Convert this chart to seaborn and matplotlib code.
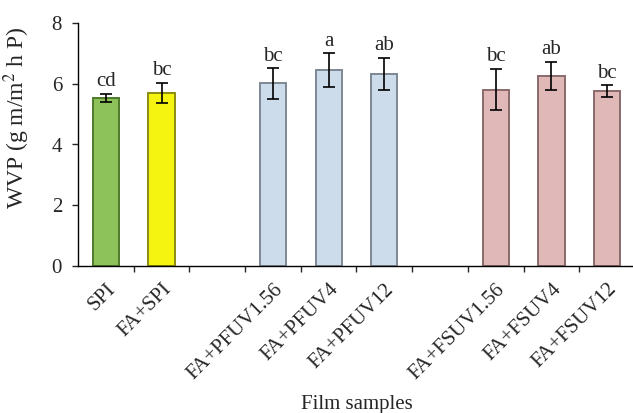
import numpy as np
import pandas as pd
import matplotlib
matplotlib.use('Agg')
import matplotlib.pyplot as plt
import seaborn as sns

# data
samples = ['SPI', 'FA+SPI', 'FA+PFUV1.56', 'FA+PFUV4', 'FA+PFUV12',
           'FA+FSUV1.56', 'FA+FSUV4', 'FA+FSUV12']
wvp = [5.54, 5.71, 6.01, 6.45, 6.32, 5.81, 6.27, 5.76]
sd = [0.13, 0.33, 0.50, 0.56, 0.54, 0.69, 0.46, 0.19]
letters = ['cd', 'bc', 'bc', 'a', 'ab', 'bc', 'ab', 'bc']
# slot order, blank slots separate the groups
order = ['SPI', 'FA+SPI', ' ', 'FA+PFUV1.56', 'FA+PFUV4', 'FA+PFUV12',
         '  ', 'FA+FSUV1.56', 'FA+FSUV4', 'FA+FSUV12']
face = {'SPI': '#8cc259', 'FA+SPI': '#f4f410',
        'FA+PFUV1.56': '#cddcea', 'FA+PFUV4': '#cddcea', 'FA+PFUV12': '#cddcea',
        'FA+FSUV1.56': '#e0b8b8', 'FA+FSUV4': '#e0b8b8', 'FA+FSUV12': '#e0b8b8'}
edge = {'SPI': '#4f7a2c', 'FA+SPI': '#8c8c10',
        'FA+PFUV1.56': '#7d8894', 'FA+PFUV4': '#7d8894', 'FA+PFUV12': '#7d8894',
        'FA+FSUV1.56': '#8a6a6a', 'FA+FSUV4': '#8a6a6a', 'FA+FSUV12': '#8a6a6a'}

df = pd.DataFrame({'sample': samples, 'wvp': wvp})

sns.set_style('ticks')
plt.rcParams['font.family'] = ['Liberation Serif', 'DejaVu Serif']
plt.rcParams['mathtext.fontset'] = 'stix'

fig = plt.figure(figsize=(6.33, 4.13), dpi=100)
ax = fig.add_axes([78/633, 147/413, 557/633, 243/413])

sns.barplot(data=df, x='sample', y='wvp', hue='sample', order=order,
            palette=face, saturation=1, width=0.47, legend=False, ax=ax)
for patch in ax.patches:
    fc = patch.get_facecolor()
    for s in samples:
        if np.allclose(fc[:3], matplotlib.colors.to_rgb(face[s]), atol=1e-3):
            patch.set_edgecolor(edge[s])
    patch.set_linewidth(1.4)

pos = [order.index(s) for s in samples]
ax.errorbar(pos, wvp, yerr=sd, fmt='none', ecolor='black', elinewidth=1.2,
            capsize=4.5, capthick=1.2)
for p, v, e, t in zip(pos, wvp, sd, letters):
    ax.text(p, v + e + 0.08, t, ha='center', va='bottom', fontsize=15)

ax.set_xlim(-0.5, 9.5)
ax.set_ylim(0, 8)
ax.set_yticks([0, 2, 4, 6, 8])
ax.tick_params(axis='y', labelsize=15, length=4.5, direction='out', width=1, pad=7)
ax.set_xticks(np.arange(len(order)))
ax.set_xticklabels(order, rotation=45, ha='right', va='top',
                   rotation_mode='anchor', fontsize=15)
ax.tick_params(axis='x', which='major', length=0, pad=10)
ax.set_xticks(np.arange(0.5, 9.5, 1), minor=True)
ax.tick_params(axis='x', which='minor', length=4, width=1, direction='out')
sns.despine(ax=ax)
for sp in ['left', 'bottom']:
    ax.spines[sp].set_linewidth(1)
    ax.spines[sp].set_color('black')

ax.set_xlabel('Film samples', fontsize=15)
ax.set_ylabel(r'WVP (g m/m$^{2}$ h P)', fontsize=17)
ax.xaxis.set_label_coords(0.5, -0.53)
ax.yaxis.set_label_coords(-0.083, 0.61)

fig.savefig('out.png', dpi=100)
